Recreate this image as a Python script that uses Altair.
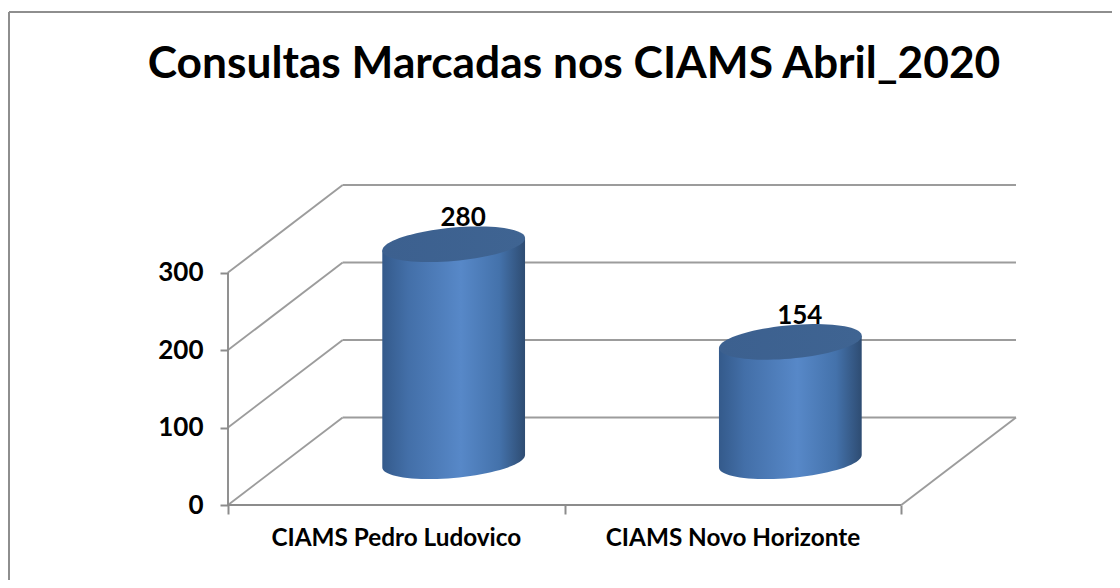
import math
import altair as alt
import pandas as pd

TITLE = "Consultas Marcadas nos CIAMS Abril_2020"
CATEGORIES = ["CIAMS Pedro Ludovico", "CIAMS Novo Horizonte"]
VALUES = [280, 154]
Y_TICKS = [0, 100, 200, 300]
X_TICKS = [0, 1, 2]

# oblique-projection parameters, in data units
DX, DY = 0.3406, 113.0
HALF_W, ELL_B, ELL_S = 0.212, 21.6, 8.0
X_DOM = [0, 2 + DX]
Y_DOM = [0, 300 + DY]
FONT = "Lato"
GRID = "#9c9c9c"
AXIS = "#8c8c8c"

x_scale = alt.Scale(domain=X_DOM, nice=False, zero=False)
y_scale = alt.Scale(domain=Y_DOM, nice=False, zero=False)
x_axis = alt.Axis(values=X_TICKS, labels=False, title=None, domain=False, grid=False,
                  tickColor=AXIS, tickWidth=2, tickSize=9)
y_axis = alt.Axis(values=Y_TICKS, title=None, domain=False, grid=False, tickColor=AXIS,
                  tickWidth=2, tickSize=8, labelPadding=17, labelFont=FONT,
                  labelFontWeight="bold", labelFontSize=26, labelColor="#000000")
X = lambda f: alt.X(f, type="quantitative", scale=x_scale, axis=x_axis)
Y = lambda f: alt.Y(f, type="quantitative", scale=y_scale, axis=y_axis)


def rule(rows, color=GRID, width=1.9):
    return alt.Chart(pd.DataFrame(rows)).mark_rule(color=color, strokeWidth=width).encode(
        x=X("x"), x2="x2", y=Y("y"), y2="y2")


back = [dict(x=DX, x2=2 + DX, y=t + DY, y2=t + DY) for t in Y_TICKS]
diag = [dict(x=0, x2=DX, y=t, y2=t + DY) for t in Y_TICKS]
diag.append(dict(x=2, x2=2 + DX, y=0, y2=DY))
front = [dict(x=0, x2=2, y=0, y2=0), dict(x=0, x2=0, y=0, y2=300)]

body_grad = alt.LinearGradient(gradient="linear", x1=0, x2=1, y1=0, y2=0, stops=[
    alt.GradientStop(offset=0, color="#345a8b"),
    alt.GradientStop(offset=0.18, color="#436fa8"),
    alt.GradientStop(offset=0.55, color="#5788c8"),
    alt.GradientStop(offset=0.82, color="#4472ab"),
    alt.GradientStop(offset=1, color="#2e4c72"),
])
top_grad = alt.LinearGradient(gradient="linear", x1=0, x2=1, y1=0, y2=0, stops=[
    alt.GradientStop(offset=0, color="#3c608f"),
    alt.GradientStop(offset=1, color="#3f6492"),
])

cyl_layers = []
for i, v in enumerate(VALUES):
    cx = i + 0.5 + DX / 2
    base = DY / 2
    top = base + v
    body, cap = [], []
    for k in range(41):
        u = -math.cos(math.pi * k / 40)
        root = math.sqrt(max(0, 1 - u * u))
        px = cx + HALF_W * u
        body.append(dict(x=px, y=top + ELL_S * u, y2=base + ELL_S * u - ELL_B * root))
        cap.append(dict(x=px, y=top + ELL_S * u + ELL_B * root, y2=top + ELL_S * u - ELL_B * root))
    for rows, grad in ((body, body_grad), (cap, top_grad)):
        cyl_layers.append(alt.Chart(pd.DataFrame(rows)).mark_area(color=grad).encode(
            x=X("x"), y=Y("y"), y2="y2"))

val_df = pd.DataFrame({"x": [i + 0.5 + DX / 2 for i in range(2)],
                       "y": [DY / 2 + v for v in VALUES], "t": [str(v) for v in VALUES]})
val_text = alt.Chart(val_df).mark_text(font=FONT, fontWeight="bold", fontSize=26, color="#000000",
                                       dx=9.5, dy=-26).encode(
    x=X("x"), y=Y("y"), text="t:N")

cat_df = pd.DataFrame({"x": [0.5, 1.5], "y": [0, 0], "t": CATEGORIES})
cat_text = alt.Chart(cat_df).mark_text(font=FONT, fontWeight="bold", fontSize=24.3, color="#000000",
                                       dy=34).encode(
    x=X("x"), y=Y("y"), text="t:N")

frame = [
    alt.Chart(pd.DataFrame({"a": [0]})).mark_rule(color="#8e8e8e", strokeWidth=2).encode(
        x=alt.value(-219), x2=alt.value(884), y=alt.value(-173)),
    alt.Chart(pd.DataFrame({"a": [0]})).mark_rule(color="#8e8e8e", strokeWidth=2).encode(
        x=alt.value(-219), y=alt.value(-173), y2=alt.value(395)),
]

chart = alt.layer(
    *frame, rule(back), rule(diag), rule(front, AXIS), *cyl_layers, val_text, cat_text
).properties(
    width=788, height=320, autosize="none", background="#ffffff",
    padding={"left": 220, "top": 177, "right": 96, "bottom": 75},
    title=alt.TitleParams(TITLE, font=FONT, fontWeight="bold", fontSize=44.3, color="#000000",
                          anchor="middle", frame="group", dx=-48, dy=120, offset=0, baseline="bottom"),
).configure_view(stroke=None)

chart.save("out.html", embed_options={"renderer": "svg", "actions": False})
